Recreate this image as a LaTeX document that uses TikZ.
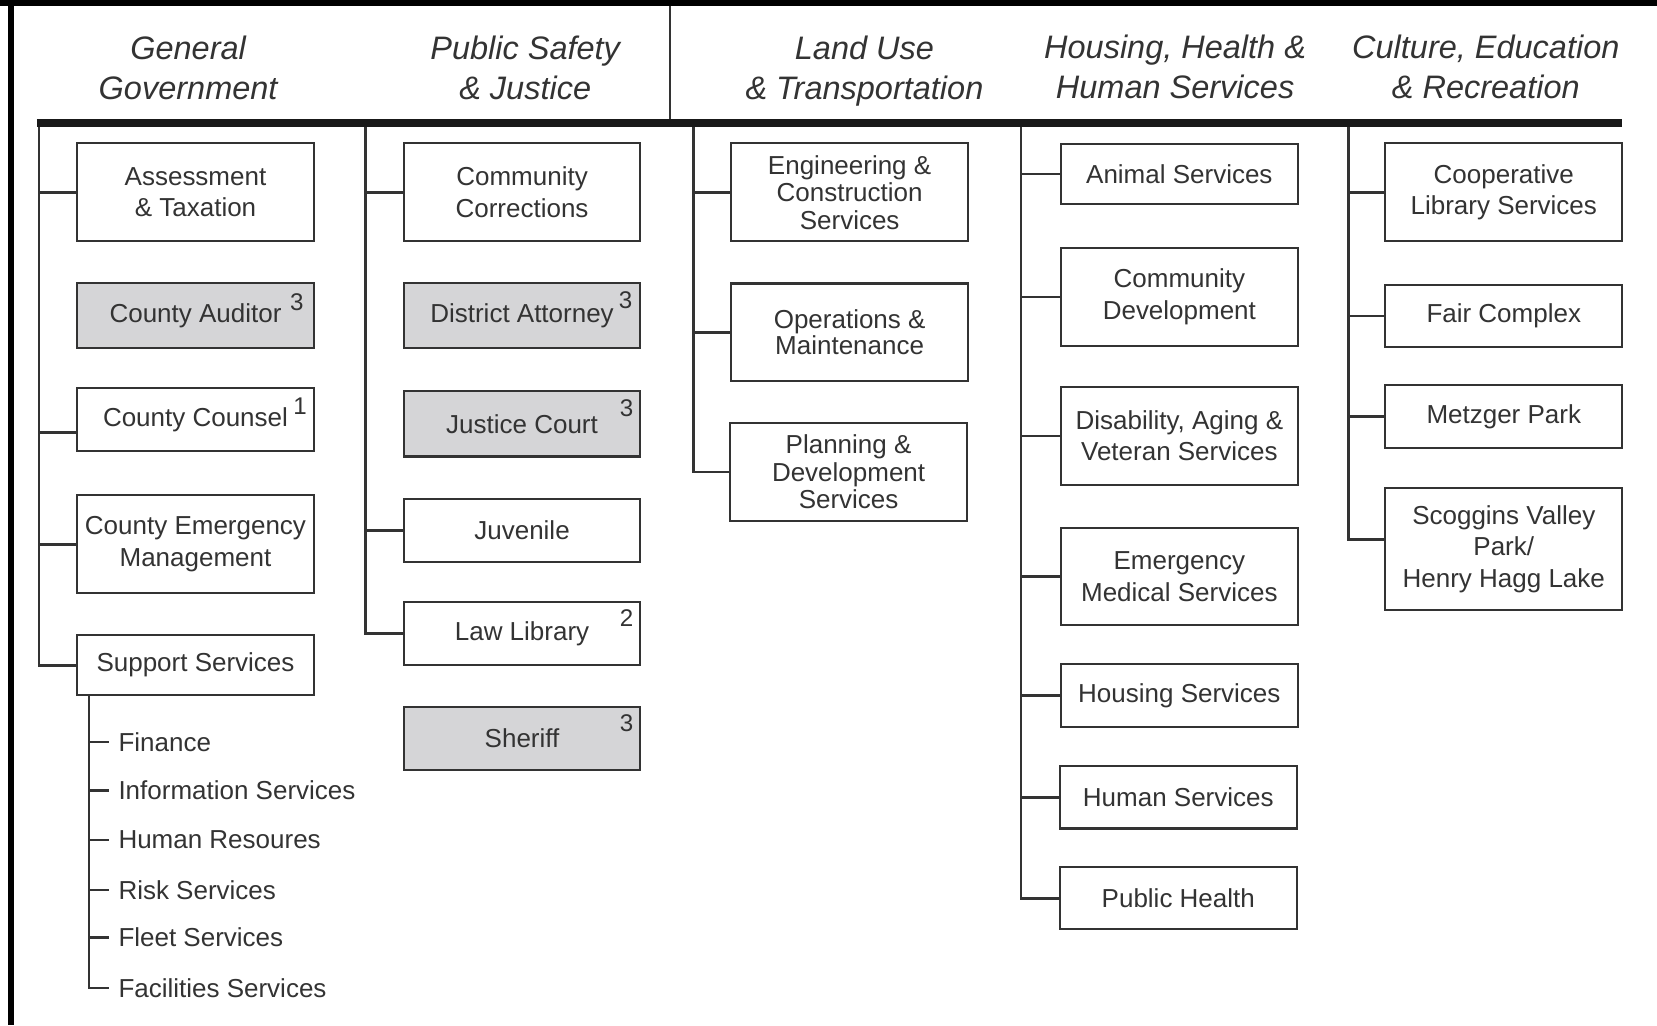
\documentclass[tikz,border=0pt]{standalone}
\usepackage{fontspec}
\setmainfont{Liberation Sans}

\definecolor{ink}{HTML}{333333}
\definecolor{shade}{HTML}{D5D5D7}

\tikzset{
  unit/.style={draw=ink, line width=1.1pt, fill=white, text=ink, align=center,
    minimum width=4.48cm, inner sep=2pt, font=\fontsize{14}{17}\selectfont},
  elected/.style={unit, fill=shade},
  single/.style={minimum height=1.18cm},
  double/.style={minimum height=1.85cm},
  tight/.style={font=\fontsize{14}{14.8}\selectfont},
  link/.style={draw=ink, line width=1.4pt},
  note/.style={text=ink, inner sep=0pt, font=\fontsize{13}{13}\selectfont},
  item/.style={anchor=west, text=ink, inner xsep=5pt, inner ysep=1pt,
    font=\fontsize{14}{17}\selectfont},
  area/.style={text=ink, align=center, font=\fontsize{17.5}{21.6}\selectfont\itshape}
}

\begin{document}
\begin{tikzpicture}[x=0.02cm, y=-0.02cm]
    \useasboundingbox (0,0) rectangle (1568,970);

    \draw[line width=3.4pt] (0,3) -- (1568,3);
    \draw[line width=2.8pt] (10.5,0) -- (10.5,970);

    \coordinate (barL) at (35,116.5);
    \coordinate (barR) at (1535,116.5);
    \coordinate (sepT) at (634,6);
    \coordinate (sepB) at (634,113);

    \draw[line width=4pt, draw=black!90] (barL) -- (barR);
    \draw[link, line width=1.2pt] (sepT) -- (sepB);

    \node[area] (hgg) at (178,64) {General\\Government};
    \node[area] (hps) at (497,64) {Public Safety\\\& Justice};
    \node[area] (hlu) at (818,67) {Land Use\\\& Transportation};
    \node[area] (hhh) at (1112,63) {Housing, Health \&\\Human Services};
    \node[area] (hce) at (1406,63) {Culture, Education\\\& Recreation};

    \coordinate (gg) at (37,120);
    \coordinate (ps) at (346,120);
    \coordinate (lu) at (656,120);
    \coordinate (hh) at (966,120);
    \coordinate (ce) at (1276,120);

    \node[unit, double] (assess) at (185,182) {Assessment\\\& Taxation};
    \node[elected, minimum height=1.22cm] (aud) at (185,298.5) {County Auditor};
    \node[unit, single] (counsel) at (185,397) {County Counsel};
    \node[unit, double] (cem) at (185,515) {County Emergency\\Management};
    \node[unit, minimum height=1.14cm] (support) at (185,629.5) {Support Services};

    \node[note] (aud-n) at (281,286) {3};
    \node[note] (counsel-n) at (284,384) {1};

    \node[unit, double] (corr) at (494,182) {Community\\Corrections};
    \node[elected, minimum height=1.22cm] (da) at (494,298.5) {District Attorney};
    \node[elected, minimum height=1.24cm] (jc) at (494,401) {Justice Court};
    \node[unit, single] (juv) at (494,502) {Juvenile};
    \node[unit, single] (lawlib) at (494,599.5) {Law Library};
    \node[elected, minimum height=1.2cm] (sheriff) at (494,699) {Sheriff};

    \node[note] (da-n) at (592,284) {3};
    \node[note] (jc-n) at (593,386) {3};
    \node[note] (lawlib-n) at (593,585) {2};
    \node[note] (sheriff-n) at (593,684) {3};

    \node[unit, double, tight] (eng) at (804,182) {Engineering \&\\Construction\\Services};
    \node[unit, double, font=\fontsize{14}{13.7}\selectfont] (ops) at (804,314.5) {Operations \&\\Maintenance};
    \node[unit, double, tight] (plan) at (803,446.5) {Planning \&\\Development\\Services};

    \node[unit, minimum height=1.14cm] (animal) at (1116,164.5) {Animal Services};
    \node[unit, double] (cdev) at (1116,281) {Community\\Development};
    \node[unit, double] (dav) at (1116,412.5) {Disability, Aging \&\\Veteran Services};
    \node[unit, double] (ems) at (1116,545.5) {Emergency\\Medical Services};
    \node[unit, single] (housing) at (1116,658) {Housing Services};
    \node[unit, single] (human) at (1115,754.5) {Human Services};
    \node[unit, single] (ph) at (1115,850) {Public Health};

    \node[unit, double] (coop) at (1423,182) {Cooperative\\Library Services};
    \node[unit, single] (fair) at (1423,299) {Fair Complex};
    \node[unit, single] (metz) at (1423,394) {Metzger Park};
    \node[unit, minimum height=2.3cm] (scog) at (1423,519.5) {Scoggins Valley\\Park/\\Henry Hagg Lake};

    \draw[link] (gg) |- (assess.west);
    \draw[link] (gg) |- ([yshift=-7pt]counsel.west);
    \draw[link] (gg) |- (cem.west);
    \draw[link] (gg) |- (support.west);

    \draw[link] (ps) |- (corr.west);
    \draw[link] (ps) |- (juv.west);
    \draw[link] (ps) |- (lawlib.west);

    \draw[link] (lu) |- (eng.west);
    \draw[link] (lu) |- (ops.west);
    \draw[link] (lu) |- (plan.west);

    \draw[link] (hh) |- (animal.west);
    \draw[link] (hh) |- (cdev.west);
    \draw[link] (hh) |- (dav.west);
    \draw[link] (hh) |- (ems.west);
    \draw[link] (hh) |- (housing.west);
    \draw[link] (hh) |- (human.west);
    \draw[link] (hh) |- (ph.west);

    \draw[link] (ce) |- (coop.west);
    \draw[link] (ce) |- (fair.west);
    \draw[link] (ce) |- (metz.west);
    \draw[link] (ce) |- ([yshift=5pt]scog.west);

    \coordinate (sub) at ([xshift=0.24cm]support.south west);

    \node[item] (fin) at (103,702) {Finance};
    \node[item] (info) at (103,748) {Information Services};
    \node[item] (hr) at (103,795) {Human Resoures};
    \node[item] (risk) at (103,842) {Risk Services};
    \node[item] (fleet) at (103,887) {Fleet Services};
    \node[item] (fac) at (103,935) {Facilities Services};

    \draw[link] (sub) |- (fin.west);
    \draw[link] (sub) |- (info.west);
    \draw[link] (sub) |- (hr.west);
    \draw[link] (sub) |- (risk.west);
    \draw[link] (sub) |- (fleet.west);
    \draw[link] (sub) |- (fac.west);
\end{tikzpicture}
\end{document}
